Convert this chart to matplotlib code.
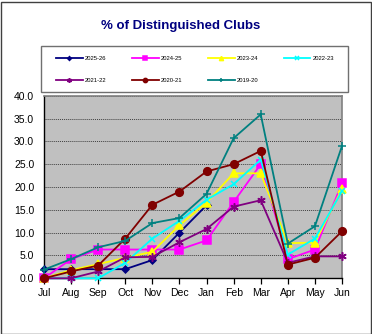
import matplotlib
matplotlib.use("Agg")
import matplotlib.pyplot as plt
from matplotlib.patches import Rectangle

plt.rcParams["font.family"] = ["Liberation Sans", "DejaVu Sans"]

months = ["Jul", "Aug", "Sep", "Oct", "Nov", "Dec", "Jan", "Feb", "Mar", "Apr", "May", "Jun"]
y_ticks = [0, 5, 10, 15, 20, 25, 30, 35, 40]

pct_2025_26 = [2.0, 2.0, 2.0, 2.0, 4.0, 10.0, 16.0]
pct_2024_25 = [0.0, 4.2, 6.3, 6.3, 6.3, 6.3, 8.3, 16.7, 25.0, 4.2, 6.3, 20.8]
pct_2023_24 = [0.0, 1.8, 3.1, 4.5, 5.8, 11.6, 16.6, 23.0, 23.0, 7.7, 7.8, 19.6]
pct_2022_23 = [0.0, 0.0, 0.0, 3.4, 8.7, 12.6, 17.2, 20.6, 26.0, 5.2, 8.7, 19.1]
pct_2021_22 = [0.0, 0.0, 1.5, 4.6, 4.7, 7.9, 10.8, 15.7, 17.1, 3.4, 4.8, 4.8]
pct_2020_21 = [0.0, 1.5, 2.8, 8.7, 16.1, 19.0, 23.4, 25.0, 27.9, 3.0, 4.5, 10.3]
pct_2019_20 = [1.9, 4.2, 6.8, 8.2, 12.1, 13.2, 18.5, 30.7, 35.9, 7.6, 11.4, 29.0]

series = [
    ("2025-26", pct_2025_26, "#000080", "D", 3.5),
    ("2024-25", pct_2024_25, "#FF00FF", "s", 5.5),
    ("2023-24", pct_2023_24, "#FFFF00", "^", 5.5),
    ("2022-23", pct_2022_23, "#00FFFF", "x", 4.5),
    ("2021-22", pct_2021_22, "#800080", (6, 2, 0), 6.0),
    ("2020-21", pct_2020_21, "#800000", "o", 5.5),
    ("2019-20", pct_2019_20, "#008080", "+", 6.0),
]

W, H = 372, 334
fig = plt.figure(figsize=(W / 100, H / 100), dpi=100)
fig.patch.set_facecolor("white")

# outer frame of the chart
fig.patches.append(Rectangle((0.5 / W, 0.5 / H), 1 - 2 / W, 1 - 2 / H,
                             transform=fig.transFigure, fill=False,
                             edgecolor="#404040", lw=1.0))

ax = fig.add_axes([44 / W, 1 - 278.3 / H, 298 / W, 182.6 / H])
ax.set_facecolor("#C0C0C0")

x = list(range(len(months)))
handles = []
for i, (name, vals, color, marker, ms) in enumerate(series):
    ln, = ax.plot(x[:len(vals)], vals, color=color, lw=1.3, marker=marker,
                  markersize=ms, markerfacecolor=color, markeredgecolor=color,
                  markeredgewidth=1.1, clip_on=False, zorder=3 + i, label=name)
    handles.append(ln)

ax.set_xlim(0, 11)
ax.set_ylim(0, 40)
ax.set_xticks(x)
ax.set_xticklabels(months)
ax.set_yticks(y_ticks)
ax.set_yticklabels([f"{v:.1f}" for v in y_ticks])
ax.yaxis.grid(True, color="#404040", linestyle=(0, (1, 1)), lw=0.7)
ax.set_axisbelow(True)

ax.tick_params(axis="y", length=0, pad=7, labelsize=7.5, colors="#000000")
ax.tick_params(axis="x", length=4, width=0.9, direction="out", pad=3,
               labelsize=7.5, colors="#000000")
for s in ("left", "bottom"):
    ax.spines[s].set_color("#000000")
    ax.spines[s].set_linewidth(1.0)
for s in ("top", "right"):
    ax.spines[s].set_color("#808080")
    ax.spines[s].set_linewidth(1.2)

fig.text(181 / W, 1 - 26 / H, "% of Distinguished Clubs", ha="center",
         va="center", fontsize=9.5, fontweight="bold", color="#000080")

# legend box, entries laid out row by row
fig.patches.append(Rectangle((41 / W, 1 - 92 / H), 307 / W, 46 / H,
                             transform=fig.transFigure, facecolor="white",
                             edgecolor="#707070", lw=1.0))
order = [0, 4, 1, 5, 2, 6, 3]
leg = fig.legend(handles=[handles[k] for k in order], loc="upper left", ncol=4,
                 bbox_to_anchor=(53 / W, 1 - 53 / H), frameon=False,
                 fontsize=4.2, handlelength=4.6, handletextpad=0.4,
                 columnspacing=4.3, labelspacing=2.9, markerscale=0.55,
                 borderpad=0.0)

fig.savefig("out.png", dpi=100)
